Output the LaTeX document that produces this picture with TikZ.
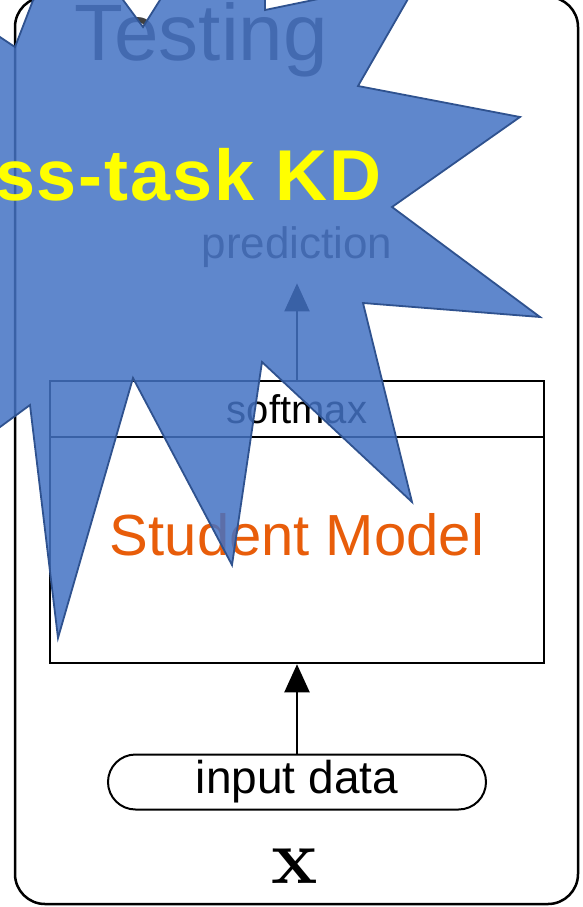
\RequirePackage{fix-cm}
\documentclass[tikz,border=0pt]{standalone}
\usepackage[no-math]{fontspec}
\setmainfont{Liberation Sans}
\newfontfamily\kdfont{Liberation Sans}[LetterSpace=2.5]
\usepackage{tikz}
\usetikzlibrary{arrows.meta,positioning,shapes.misc}
\definecolor{figStar}{HTML}{4472C4}
\definecolor{figStarEdge}{HTML}{2F528F}
\definecolor{figOrange}{HTML}{E85D0A}
\definecolor{figText}{HTML}{404040}
\definecolor{figYellow}{HTML}{FFFF00}

\begin{document}
\begin{tikzpicture}[
  x=1pt, y=-1pt,
  box/.style={
    draw=black, line width=2.5pt,
    minimum width=494pt, inner sep=0pt,
  },
  lbl/.style={font=\fontsize{#1}{#1}\selectfont, inner sep=0pt, anchor=base},
  arr/.style={-{Triangle[length=28pt, width=25pt]}, line width=2pt},
  burst/.style={fill=figStar, fill opacity=0.85, draw=figStarEdge, line width=1.8pt},
]
\useasboundingbox (0,0) rectangle (582,907);
\clip (0,0) rectangle (582,907);
\fill[white] (0,0) rectangle (582,907);

% Frame
\draw[line width=2.5pt, rounded corners=30pt] (15,-3) rectangle (578,904);

% Title and output
\node[lbl=80, text=figText] (test) at (201,61) {Testing};
\node[lbl=44, text=figText] (pred) at (297,258) {prediction};

% Student model with softmax head
\node[box, minimum height=56pt, font=\fontsize{40}{40}\selectfont] (soft) at (297,409) {softmax};
\node[box, minimum height=226pt] (stud) at (297,550) {};
\node[lbl=58, text=figOrange] (studtxt) at (297,555) {Student Model};

% Input
\node[draw, rounded rectangle, line width=2pt, minimum width=378pt, minimum height=55pt,
  inner sep=0pt, font=\fontsize{46}{46}\selectfont] (inp) at (297,782) {input data};
\node[lbl=78] (vec) at (295,883) {$\mathbf{x}$};

% Arrows
\draw[arr] (inp.north) -- (stud.south);
\draw[arr, shorten >=16pt] (soft.north) -- (pred.south);

% Burst
\draw[burst] (15,47) -- (64,-80) -- (143,27) -- (265,-167) -- (265,10) -- (420,-22)
  -- (358,86) -- (520,117) -- (392,207) -- (540,317) -- (363,303) -- (412,502)
  -- (262,362) -- (232,565) -- (133,378) -- (58,638) -- (30,405) -- (-200,574)
  -- (-60,300) -- (-300,200) -- (-60,150) -- (-200,-96) -- cycle;
\node[font=\kdfont\bfseries\fontsize{72}{72}\selectfont, text=figYellow, anchor=base east,
  inner sep=0pt] (kd) at (382,200) {Cross-task KD};

\end{tikzpicture}
\end{document}
